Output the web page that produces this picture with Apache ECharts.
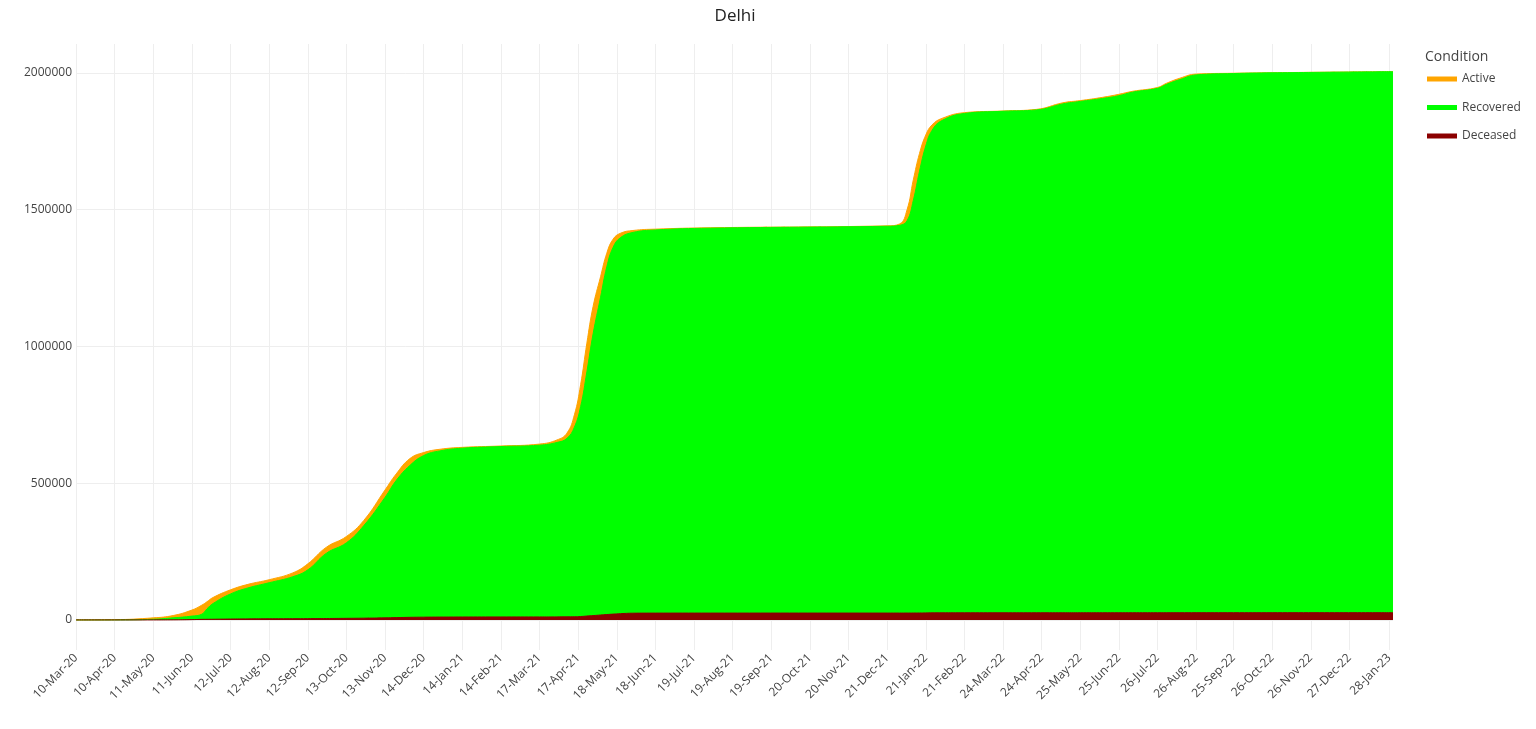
<!DOCTYPE html>
<html><head><meta charset="utf-8">
<script src="https://cdn.jsdelivr.net/npm/echarts@6/dist/echarts.min.js"></script>
<style>html,body{margin:0;padding:0;background:#fff}#c{width:1536px;height:729px}</style>
</head><body><div id="c"></div>
<script>
const dates = ['2020-03-10','2020-04-10','2020-05-11','2020-05-27','2020-06-11','2020-06-19','2020-06-23','2020-06-28','2020-07-12','2020-07-26',
'2020-08-12','2020-08-31','2020-09-12','2020-09-27','2020-10-13','2020-10-27','2020-11-13','2020-11-22','2020-12-03','2020-12-14',
'2020-12-27','2021-01-14','2021-02-14','2021-03-17','2021-03-31','2021-04-08','2021-04-14','2021-04-19','2021-04-24','2021-04-29',
'2021-05-05','2021-05-10','2021-05-15','2021-05-21','2021-05-31','2021-06-18','2021-08-01','2021-12-21','2021-12-31','2022-01-06',
'2022-01-11','2022-01-16','2022-01-21','2022-01-26','2022-02-03','2022-02-21','2022-03-24','2022-04-20','2022-05-11','2022-05-25',
'2022-06-12','2022-06-25','2022-07-06','2022-07-26','2022-08-02','2022-08-13','2022-08-26','2022-09-25','2022-10-26','2023-01-31'];
const deceased = [0,14,80,300,1100,2100,2300,2500,3300,3800,
4150,4450,4700,5150,5800,6400,7500,8400,9500,10100,
10450,10700,10880,10950,11050,11300,11500,12400,14200,15800,
18000,19700,21200,22900,24600,24950,25050,25100,25110,25160,
25250,25400,25600,25850,26000,26100,26140,26160,26190,26210,
26230,26250,26280,26300,26320,26380,26450,26480,26500,26520];
const recovered = [0,16,2220,7200,12900,18900,37700,57500,91700,113200,
131850,153550,178300,238850,276200,338600,440500,501600,555500,590900,
607550,617300,623120,628050,637950,652700,693500,767600,892800,1030200,
1162000,1271300,1340800,1375100,1392400,1401050,1407450,1414400,1417890,1434840,
1508750,1615600,1707400,1764150,1800000,1825900,1833860,1838840,1860810,1869790,
1880770,1890750,1903720,1917700,1931680,1949620,1966550,1971520,1974000,1978280];
const active = [0,870,5200,8500,22000,33000,26000,22000,15000,13000,
11000,14000,22000,22000,23000,19000,27000,24000,25000,11000,
6000,3000,2000,4000,9000,19000,45000,80000,105000,100000,
75000,50000,30000,16000,7000,3000,1500,1500,5000,40000,
75000,65000,40000,20000,8000,3000,1000,2000,4000,3000,
4000,5000,3000,3000,4000,5000,3000,1000,500,200];
const xTickLabels = ['10-Mar-20','10-Apr-20','11-May-20','11-Jun-20','12-Jul-20','12-Aug-20','12-Sep-20','13-Oct-20','13-Nov-20','14-Dec-20',
'14-Jan-21','14-Feb-21','17-Mar-21','17-Apr-21','18-May-21','18-Jun-21','19-Jul-21','19-Aug-21','19-Sep-21','20-Oct-21',
'20-Nov-21','21-Dec-21','21-Jan-22','21-Feb-22','24-Mar-22','24-Apr-22','25-May-22','25-Jun-22','26-Jul-22','26-Aug-22',
'25-Sep-22','26-Oct-22','26-Nov-22','27-Dec-22','28-Jan-23'];
const yTickValues = [0,500000,1000000,1500000,2000000];

const MONTHS = ['Jan','Feb','Mar','Apr','May','Jun','Jul','Aug','Sep','Oct','Nov','Dec'];
const T0 = Date.UTC(2020,2,10), DAY = 86400000;
function isoDay(s){const p=s.split('-');return Math.round((Date.UTC(+p[0],+p[1]-1,+p[2])-T0)/DAY);}
function labelDay(s){const p=s.split('-');return Math.round((Date.UTC(2000+(+p[2]),MONTHS.indexOf(p[1]),+p[0])-T0)/DAY);}
const xs = dates.map(isoDay);
const xTickDays = xTickLabels.map(labelDay);
const tickLabelMap = {}; xTickDays.forEach((d,i)=>{tickLabelMap[d]=xTickLabels[i];});

// cumulative tops of the stack (Deceased at bottom, Recovered, Active on top)
const topDeceased = deceased.map(v=>v);
const topRecovered = recovered.map((v,i)=>v+deceased[i]);
const topActive = active.map((v,i)=>v+recovered[i]+deceased[i]);
const pair = arr => arr.map((v,i)=>[xs[i],v]);

const FONT = '"Open Sans", "Noto Sans", sans-serif';
function areaSeries(name,color,arr,z){
  return {name,type:'line',data:pair(arr),showSymbol:false,smooth:0.45,z,
    lineStyle:{width:1,color},itemStyle:{color},areaStyle:{color,opacity:1},emphasis:{disabled:true}};
}
const chart = echarts.init(document.getElementById('c'));
chart.setOption({
  animation:false,
  backgroundColor:'#ffffff',
  textStyle:{fontFamily:FONT},
  graphic:[
    {type:'text',x:735,y:16,style:{text:'Delhi',fill:'#222',font:'17px '+FONT,textAlign:'center',textVerticalAlign:'middle'}},
    {type:'text',x:1425,y:57,style:{text:'Condition',fill:'#444',font:'14px '+FONT,textAlign:'left',textVerticalAlign:'middle'}}
  ],
  legend:{orient:'vertical',left:1427,top:72,padding:0,itemWidth:30,itemHeight:5,itemGap:14.5,icon:'rect',
    data:['Active','Recovered','Deceased'],textStyle:{fontSize:12,color:'#444',fontFamily:FONT,lineHeight:14},selectedMode:false},
  grid:{left:76,right:143,top:44,bottom:79,containLabel:false},
  xAxis:{type:'value',min:0,max:xs[xs.length-1],
    axisLine:{show:false},
    axisTick:{show:false,customValues:xTickDays},
    splitLine:{show:true,lineStyle:{color:'#eeeeee',width:1}},
    axisLabel:{customValues:xTickDays,rotate:45,color:'#444',fontSize:12,fontFamily:FONT,margin:6,
      formatter:v=>tickLabelMap[v]||''}},
  yAxis:{type:'value',min:-110000,max:2106000,
    axisLine:{show:false},
    axisTick:{show:false,customValues:yTickValues},
    splitLine:{show:true,lineStyle:{color:'#eeeeee',width:1}},
    axisLabel:{customValues:yTickValues,color:'#444',fontSize:12,fontFamily:FONT,margin:4,formatter:v=>String(v)}},
  series:[
    areaSeries('Active','#FFA500',topActive,2),
    areaSeries('Recovered','#00FF00',topRecovered,3),
    areaSeries('Deceased','#8B0000',topDeceased,4)
  ]
});
</script></body></html>
